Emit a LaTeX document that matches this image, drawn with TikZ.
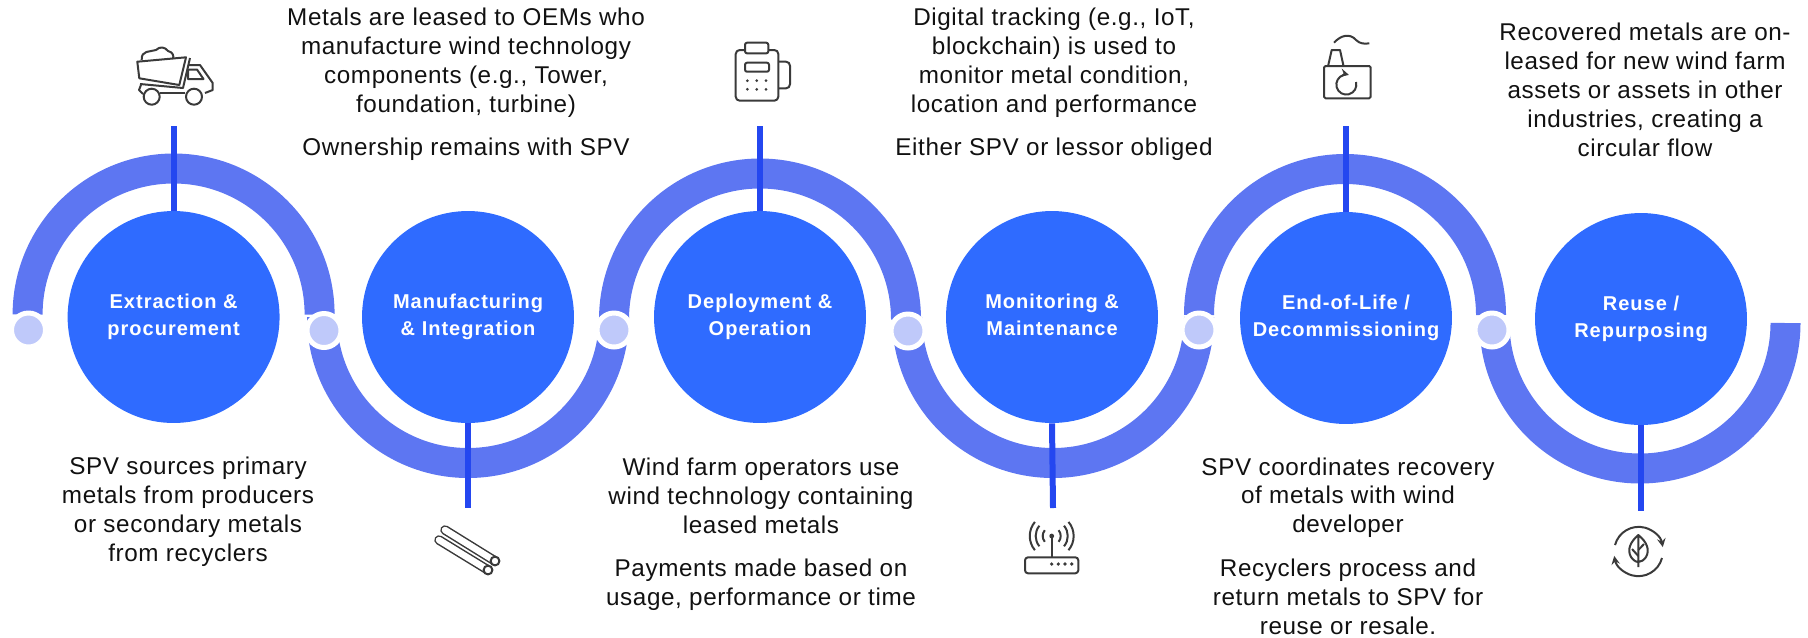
\documentclass[tikz,border=0pt]{standalone}
\usepackage{fontspec}
\setmainfont{Liberation Sans}
\newfontfamily\notefont[LetterSpace=2.5]{Liberation Sans}
\newfontfamily\stagefont[LetterSpace=5]{Liberation Sans}
\definecolor{ringblue}{HTML}{5D76F2}
\definecolor{stemblue}{HTML}{2447F0}
\definecolor{stageblue}{HTML}{2F6BFF}
\definecolor{dotblue}{HTML}{BFC9FA}
\definecolor{icongrey}{HTML}{3A3A3A}
\definecolor{textblack}{HTML}{111111}
\tikzset{
  ring/.style={draw=ringblue,line width=0.6cm},
  stem/.style={draw=stemblue,line width=0.12cm},
  stage/.style={circle,fill=stageblue,minimum size=4.24cm,text=white,align=center,font=\fontsize{11.4pt}{15.4pt}\stagefont\bfseries,
    execute at begin node=\rule{0pt}{12.7pt},execute at end node=\rule[-3pt]{0pt}{3pt}},
  dot/.style={circle,fill=dotblue,draw=white,line width=0.1cm,minimum size=0.68cm},
  note/.style={align=center,text=textblack,font=\fontsize{13.8pt}{16.5pt}\notefont},
  icon/.style={draw=icongrey,line width=0.04cm,line join=round},
  pipe/.style={draw=icongrey,line width=0.03cm,line cap=round,double=white,double distance=0.13cm},
}
\begin{document}
\begin{tikzpicture}[x=0.02cm,y=0.02cm]
\tikzstyle{every node}+=[inner sep=0pt]
\useasboundingbox (0,0) rectangle (1808,-637);
% rings
\draw [ring] (27.6,-314.5) arc (180:0:146);
\draw [ring] (322,-317) arc (180:360:146);
\draw [ring] (614,-319.5) arc (180:0:146);
\draw [ring] (907,-317) arc (180:360:146);
\draw [ring] (1199,-315) arc (180:0:146);
\draw [ring] (1494.5,-323) arc (180:360:145.5);
% stages
\coordinate (tipA) at (173.6,-126);
\coordinate (tipB) at (468,-508);
\coordinate (tipC) at (760,-126);
\coordinate (tipD) at (1053,-508);
\coordinate (tipE) at (1346,-126);
\coordinate (tipF) at (1641,-511);
\node [stage] (stageA) at (173.6,-317) {Extraction \&\\procurement};
\node [stage] (stageB) at (468,-317) {Manufacturing\\\& Integration};
\node [stage] (stageC) at (760,-317) {Deployment \&\\Operation};
\node [stage] (stageD) at (1052,-317) {Monitoring \&\\Maintenance};
\node [stage] (stageE) at (1346,-318) {End-of-Life /\\Decommissioning};
\node [stage] (stageF) at (1641,-319) {Reuse /\\Repurposing};
\draw [stem] (stageA.north) -- (tipA);
\draw [stem] (stageB.south) -- (tipB);
\draw [stem] (stageC.north) -- (tipC);
\draw [stem] (stageD.south) -- (tipD);
\draw [stem] (stageE.north) -- (tipE);
\draw [stem] (stageF.south) -- (tipF);
% dots
\node [dot] (dotA) at (28.5,-330) {};
\node [dot] (dotB) at (324,-330.5) {};
\node [dot] (dotC) at (614,-330) {};
\node [dot] (dotD) at (908,-331) {};
\node [dot] (dotE) at (1199,-330) {};
\node [dot] (dotF) at (1492,-330) {};
% notes
\node [note] (noteA) at (188,-512) {SPV sources primary\\metals from producers\\or secondary metals\\from recyclers};
\node [note] (noteB) at (466,-84.5) {Metals are leased to OEMs who\\manufacture wind technology\\components (e.g., Tower,\\foundation, turbine)\\[8.2pt]Ownership remains with SPV};
\node [note] (noteC) at (761,-534) {Wind farm operators use\\wind technology containing\\leased metals\\[8.2pt]Payments made based on\\usage, performance or time};
\node [note] (noteD) at (1054,-84.5) {Digital tracking (e.g., IoT,\\blockchain) is used to\\monitor metal condition,\\location and performance\\[8.2pt]Either SPV or lessor obliged};
\node [note] (noteE) at (1348,-546) {SPV coordinates recovery\\of metals with wind\\developer\\[8.2pt]Recyclers process and\\return metals to SPV for\\reuse or resale.};
\node [note] (noteF) at (1645,-90) {Recovered metals are on-\\leased for new wind farm\\assets or assets in other\\industries, creating a\\circular flow};
% truck
\draw [icon] (137.3,-61.7) -- (186,-57.3) -- (179.3,-85) -- (139.3,-78.3) -- cycle;
\draw [icon] (190,-58) -- (183,-88) -- (140,-84);
\draw [icon] (141.7,-60) .. controls (141,-50) and (150,-52) .. (156,-50) .. controls (160,-46) and (165,-47) .. (168,-51) .. controls (173,-52) and (174,-56) .. (173,-59);
\draw [icon] (188,-65) -- (200,-65) -- (212.7,-83) -- (212.7,-90) -- (205,-93);
\draw [icon] (188,-69.5) -- (197,-69.5) -- (203.5,-79) -- (188,-79) -- cycle;
\draw [icon] (160,-93) -- (185,-93);
\draw [icon] (143,-94) -- (139,-90) -- (141,-85);
\draw [icon] (151.7,-96.7) circle (8);
\draw [icon] (194,-96.7) circle (8);
% pipes
\draw [pipe] (445,-530) -- (495,-561);
\draw [pipe] (439,-540) -- (488,-570);
\draw [icon,fill=white] (495,-561) circle (4.4);
\draw [icon,fill=white] (488,-570) circle (4.4);
% card machine
\draw [icon,rounded corners=0.08cm] (735.7,-50) rectangle (778.3,-100.7);
\draw [icon,rounded corners=0.04cm,fill=white] (745,-42.7) rectangle (768.3,-53.3);
\draw [icon,rounded corners=0.04cm] (745,-62.7) rectangle (769,-71.7);
\draw [icon,rounded corners=0.08cm] (778.3,-61.7) -- (790,-61.7) -- (790,-88.3) -- (778.3,-88.3);
\fill [icongrey] (747.3,-80.7) circle (1.5);
\fill [icongrey] (756.7,-80.7) circle (1.5);
\fill [icongrey] (766,-80.7) circle (1.5);
\fill [icongrey] (747.3,-89.3) circle (1.5);
\fill [icongrey] (756.7,-89.3) circle (1.5);
\fill [icongrey] (766,-89.3) circle (1.5);
% router
\draw [icon,rounded corners=0.06cm] (1025,-557.3) rectangle (1078.3,-573.3);
\draw [icon] (1051.7,-536) -- (1051.7,-557.3);
\fill [icongrey] (1051.7,-536) circle (2.4);
\draw [icon] (1058.6,-530.2) arc (40:-40:9);
\draw [icon] (1064,-525.7) arc (40:-40:16);
\draw [icon] (1068.5,-521.9) arc (40:-40:22);
\draw [icon] (1044.8,-530.2) arc (140:220:9);
\draw [icon] (1039.4,-525.7) arc (140:220:16);
\draw [icon] (1034.9,-521.9) arc (140:220:22);
\fill [icongrey] (1051.7,-564) circle (1.8);
\fill [icongrey] (1058.3,-564) circle (1.8);
\fill [icongrey] (1065,-564) circle (1.8);
\fill [icongrey] (1071.7,-564) circle (1.8);
% factory
\draw [icon,rounded corners=0.03cm] (1324,-66) rectangle (1370.7,-98.3);
\draw [icon] (1328.3,-65) -- (1331.7,-50) -- (1340,-50) -- (1343.3,-65);
\draw [icon] (1334,-42.7) .. controls (1341,-35) and (1350,-33) .. (1356,-40) .. controls (1360,-44) and (1365,-44) .. (1369.3,-43.3);
\draw [icon,-stealth] (1356,-82) arc (15:-285:10);
% leaf loop
\draw [icon,-stealth] (1615,-545) arc (165:10:24.5);
\draw [icon,-stealth] (1662,-558) arc (-15:-170:24.5);
\draw [icon] (1638.3,-535) .. controls (1630,-542) and (1627,-550) .. (1631,-557) .. controls (1633,-560) and (1636,-562) .. (1638.3,-562) .. controls (1641,-562) and (1644,-560) .. (1646,-557) .. controls (1650,-550) and (1647,-542) .. (1638.3,-535) -- (1638.3,-567);
\draw [icon] (1638.3,-550) -- (1644,-544);
\draw [icon] (1638.3,-556) -- (1632,-549);
\end{tikzpicture}
\end{document}
